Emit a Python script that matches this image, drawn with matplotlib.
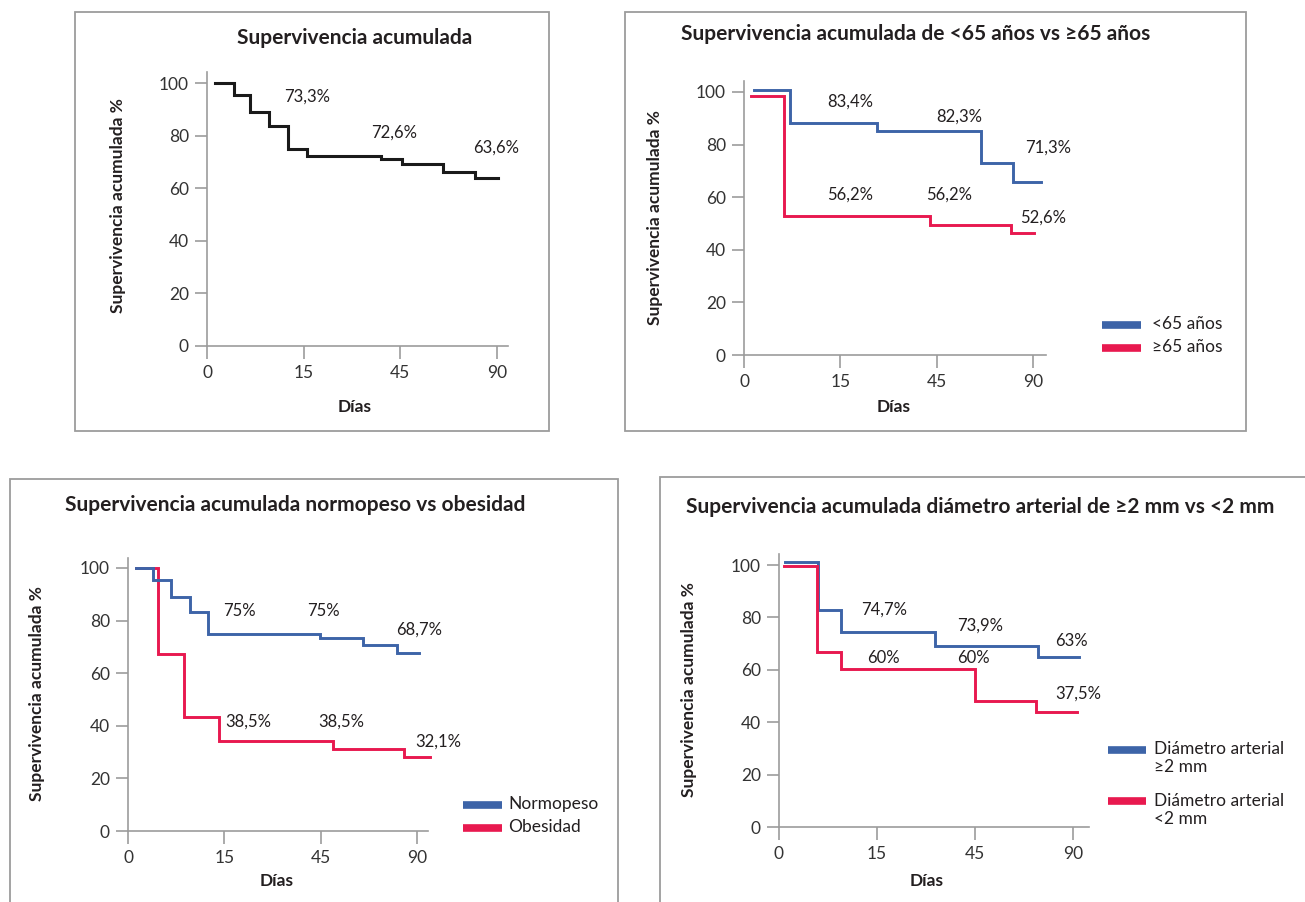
import numpy as np
import matplotlib
matplotlib.use('Agg')
import matplotlib.pyplot as plt
from matplotlib.patches import Rectangle
from matplotlib.lines import Line2D

plt.rcParams['font.family'] = ['Lato', 'DejaVu Sans']

# ---- data (days, survival %) ----
day_ticks = [0, 15, 45, 90]
y_ticks = [0, 20, 40, 60, 80, 100]

t_all = [1.2, 4.2, 6.6, 9.6, 12.5, 15.9, 39, 45.9, 64.8, 79.7]
s_all = [100, 95.4, 89, 83.6, 74.9, 72.4, 71.1, 69.2, 66.2, 63.9]
end_all = 90.5
lab_all = [(16, 94.7, '73,3%'), (43, 81, '72,6%'), (89.5, 75.6, '63,6%')]

t_lt65 = [1.5, 7.2, 26.4, 65.7, 80.6]
s_lt65 = [100.8, 88.2, 85.2, 73, 65.8]
end_lt65 = 94
t_ge65 = [1.05, 6.3, 42.9, 79.7]
s_ge65 = [98.5, 52.9, 49.4, 46.4]
end_ge65 = 90.5
lab_age = [(18.2, 96.2, '83,4%'), (55.8, 90.5, '82,3%'), (97.2, 78.7, '71,3%'),
           (18.2, 60.8, '56,2%'), (50.9, 60.8, '56,2%'), (95, 52.1, '52,6%')]

t_norm = [1.25, 3.9, 6.75, 9.6, 12.45, 44.7, 64.8, 80.6]
s_norm = [100, 95.4, 89, 83.3, 74.9, 73.4, 70.7, 67.7]
end_norm = 90.9
t_obes = [1.25, 4.65, 8.7, 14.2, 50.9, 84.2]
s_obes = [100, 67.3, 43.3, 34.2, 31.2, 28.1]
end_obes = 96.3
lab_bmi = [(19.6, 83.7, '75%'), (46.1, 83.7, '75%'), (91, 76.4, '68,7%'),
           (22.4, 41.4, '38,5%'), (54.5, 41.4, '38,5%'), (99.9, 33.8, '32,1%')]

t_big = [0.95, 6, 9.45, 32.7, 73.8]
s_big = [101, 82.8, 74.4, 69.1, 64.9]
end_big = 92.7
t_small = [0.75, 5.85, 9.45, 45, 72.9]
s_small = [99.6, 66.8, 60.3, 48.1, 43.9]
end_small = 91.8
lab_diam = [(17.1, 82.8, '74,7%'), (47.25, 76.7, '73,9%'), (89.1, 71, '63%'),
            (16.8, 64.5, '60%'), (44.4, 64.5, '60%'), (92.25, 50.8, '37,5%')]

BLUE = '#3d64a8'
RED = '#e8194f'
TXT = '#231f20'
GREY = '#9c9c9c'

W, H = 1305, 902
fig = plt.figure(figsize=(W / 100, H / 100), dpi=100)


def fwd(d):
    d = np.asarray(d, float)
    p = np.interp(d, day_ticks, [0, 1, 2, 3])
    return np.where(d > 90, 3 + (d - 90) / 45, p)


def inv(p):
    p = np.asarray(p, float)
    d = np.interp(p, [0, 1, 2, 3], day_ticks)
    return np.where(p > 3, 90 + (p - 3) * 45, d)


def ftext(x, y, s, **kw):
    kw.setdefault('color', TXT)
    fig.text(x / W, 1 - y / H, s, **kw)


def box(x0, y0, x1, y1):
    fig.add_artist(Rectangle((x0 / W, 1 - y1 / H), (x1 - x0) / W, (y1 - y0) / H,
                             transform=fig.transFigure, fill=False,
                             edgecolor=GREY, lw=1.3))


def make_ax(x0, x1, y0, ytop, dx, dy):
    ax = fig.add_axes([x0 / W, 1 - y0 / H, (x1 - x0) / W, (y0 - ytop) / H])
    ax.set_xscale('function', functions=(fwd, inv))
    ax.set_xlim(0, float(inv((x1 - x0) / dx)))
    ax.set_ylim(0, (y0 - ytop) / dy)
    ax.set_xticks(day_ticks)
    ax.set_xticklabels([str(d) for d in day_ticks])
    ax.set_yticks(y_ticks)
    ax.xaxis.set_minor_locator(matplotlib.ticker.NullLocator())
    for s in ['top', 'right']:
        ax.spines[s].set_visible(False)
    for s in ['left', 'bottom']:
        ax.spines[s].set_color(GREY)
        ax.spines[s].set_linewidth(1.2)
    ax.tick_params(direction='out', length=9, width=1.2, color=GREY,
                   labelsize=12.5, labelcolor='#333333')
    ax.tick_params(axis='x', pad=5)
    ax.tick_params(axis='y', pad=4)
    ax.patch.set_alpha(0)
    return ax


def km(ax, t, s, end, color, lw=2.1):
    ax.step(t + [end], s + [s[-1]], where='post', color=color, lw=lw,
            clip_on=False, solid_joinstyle='miter')


def labels(ax, labs):
    for x, y, s in labs:
        ax.text(x, y, s, ha='center', va='center', fontsize=12, color=TXT,
                clip_on=False)


def legend_item(x0, x1, y, color, tx, ty, s):
    fig.add_artist(Line2D([x0 / W, x1 / W], [1 - y / H] * 2, color=color, lw=5.5,
                          solid_capstyle='butt', transform=fig.transFigure))
    ftext(tx, ty, s, fontsize=12.5, ha='left', va='center', linespacing=1.2)


title_kw = dict(fontsize=15, fontweight='bold', ha='center', va='center')
lab_kw = dict(fontsize=12.5, fontweight='bold', ha='center', va='center')

# ---- panel 1 ----
box(75, 12, 549, 431)
ax1 = make_ax(207, 508, 346, 72, 96.7, 2.63)
km(ax1, t_all, s_all, end_all, '#1a1a1a', lw=2.2)
labels(ax1, lab_all)
ftext(355, 38, 'Supervivencia acumulada', **title_kw)
ftext(118, 206, 'Supervivencia acumulada %', rotation=90, **lab_kw)
ftext(355, 407, 'Días', **lab_kw)

# ---- panel 2 ----
box(625, 12, 1246, 431)
ax2 = make_ax(744, 1046, 355, 81, 96.3, 2.63)
km(ax2, t_lt65, s_lt65, end_lt65, BLUE)
km(ax2, t_ge65, s_ge65, end_ge65, RED)
labels(ax2, lab_age)
ftext(916, 34, 'Supervivencia acumulada de <65 años vs ≥65 años', **title_kw)
ftext(655, 218, 'Supervivencia acumulada %', rotation=90, **lab_kw)
ftext(894, 407, 'Días', **lab_kw)
legend_item(1102, 1141, 325, BLUE, 1152, 324, '<65 años')
legend_item(1102, 1141, 348, RED, 1152, 347, '≥65 años')

# ---- panel 3 ----
box(10, 479, 618, 920)
ax3 = make_ax(128, 428, 831, 558, 96.3, 2.63)
km(ax3, t_obes, s_obes, end_obes, RED)
km(ax3, t_norm, s_norm, end_norm, BLUE)
labels(ax3, lab_bmi)
ftext(295, 505, 'Supervivencia acumulada normopeso vs obesidad', **title_kw)
ftext(37, 694, 'Supervivencia acumulada %', rotation=90, **lab_kw)
ftext(277, 881, 'Días', **lab_kw)
legend_item(463, 502, 805, BLUE, 508, 804, 'Normopeso')
legend_item(463, 502, 828, RED, 508, 827, 'Obesidad')

# ---- panel 4 ----
box(660, 477, 1320, 920)
ax4 = make_ax(779, 1089, 827, 554, 98.1, 2.62)
km(ax4, t_big, s_big, end_big, BLUE)
km(ax4, t_small, s_small, end_small, RED)
labels(ax4, lab_diam)
ftext(980, 507, 'Supervivencia acumulada diámetro arterial de ≥2 mm vs <2 mm', **title_kw)
ftext(689, 690, 'Supervivencia acumulada %', rotation=90, **lab_kw)
ftext(927, 881, 'Días', **lab_kw)
legend_item(1108, 1146, 750, BLUE, 1154, 758, 'Diámetro arterial\n≥2 mm')
legend_item(1108, 1146, 801, RED, 1154, 810, 'Diámetro arterial\n<2 mm')

fig.savefig('out.png', dpi=100)
